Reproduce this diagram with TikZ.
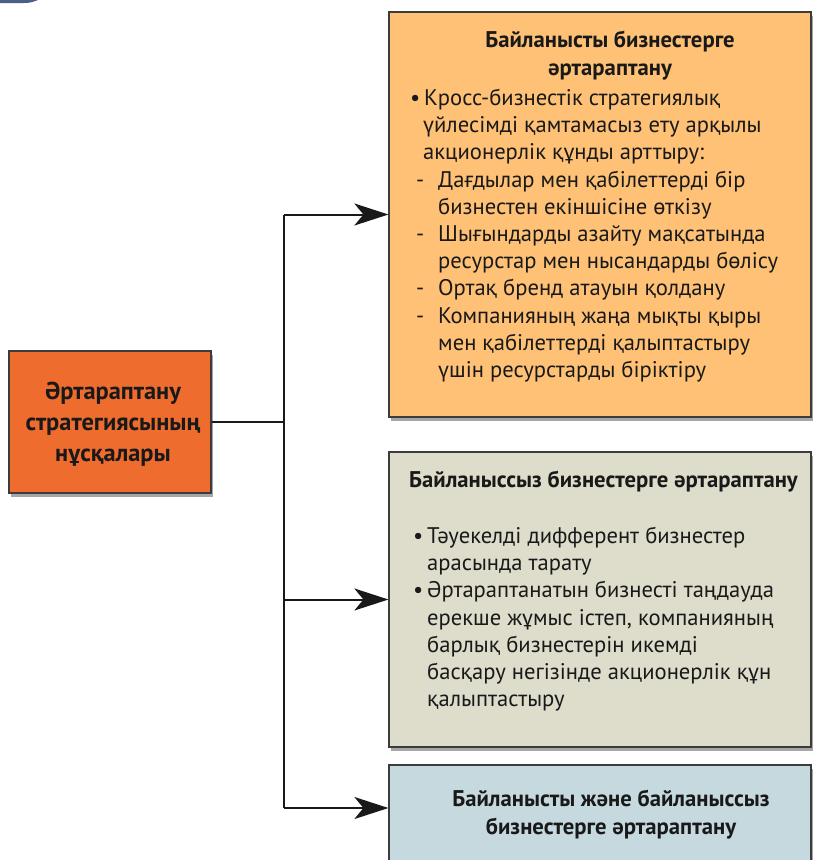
\documentclass[tikz,border=0pt]{standalone}
\usepackage{fontspec}
\setmainfont{PT Sans}
\usetikzlibrary{arrows.meta,shadows}
\definecolor{mainorange}{RGB}{239,108,47}
\definecolor{lightorange}{RGB}{254,193,117}
\definecolor{beige}{RGB}{222,220,203}
\definecolor{paleblue}{RGB}{197,217,223}
\definecolor{borderc}{RGB}{60,60,60}
\definecolor{tabblue}{RGB}{74,95,133}
\begin{document}
\begin{tikzpicture}[x=1pt,y=-1pt,
  box/.style={draw=borderc, line width=1.2pt, rectangle, inner sep=0pt,
    drop shadow={shadow xshift=2pt, shadow yshift=-4pt, opacity=0.35, fill=black}},
  body/.style={inner sep=0pt, align=left, text=black!90, font=\fontsize{22.6}{27.2}\selectfont},
  head/.style={inner sep=0pt, align=center, text=black!90, font=\fontsize{22.7}{28}\selectfont\bfseries},
  conn/.style={line width=2pt, draw=black!90},
  arr/.style={conn, -{Stealth[length=34pt,width=22pt,inset=9pt]}}
]
\clip (0,0) rectangle (813,860);
\fill[white] (0,0) rectangle (813,860);
\fill[tabblue] (0,0) -- (38,0) .. controls (33,2) and (30,3) .. (24,3) -- (0,3) -- cycle;

% boxes
\node[box, fill=mainorange, minimum width=202pt, minimum height=142pt] (src) at (110,422) {};
\node[box, fill=lightorange, minimum width=422pt, minimum height=405pt] (rel) at (600,214.5) {};
\node[box, fill=beige, minimum width=422pt, minimum height=295pt] (unrel) at (600,599.5) {};
\node[box, fill=paleblue, minimum width=422pt, minimum height=120pt] (both) at (600,825) {};

% left box text
\node[inner sep=0pt, align=center, text=black!90, font=\fontsize{24.4}{31}\selectfont\bfseries] (srcT) at (113,424)
  {Әртараптану\\стратегиясының\\нұсқалары};

% orange box text
\node[head] (relH) at (610,56) {Байланысты бизнестерге\\әртараптану};
\node[body, anchor=north west] (relT) at (409,89) {%
\hspace*{1pt}\makebox[14pt][l]{•}Кросс-бизнестік стратегиялық\\
\hspace*{14pt}үйлесімді қамтамасыз ету арқылы\\
\hspace*{14pt}акционерлік құнды арттыру:\\
\hspace*{7pt}\makebox[22pt][l]{-}Дағдылар мен қабілеттерді бір\\
\hspace*{29pt}бизнестен екіншісіне өткізу\\
\hspace*{7pt}\makebox[22pt][l]{-}Шығындарды азайту мақсатында\\
\hspace*{29pt}ресурстар мен нысандарды бөлісу\\
\hspace*{7pt}\makebox[22pt][l]{-}Ортақ бренд атауын қолдану\\
\hspace*{7pt}\makebox[22pt][l]{-}Компанияның жаңа мықты қыры\\
\hspace*{29pt}мен қабілеттерді қалыптастыру\\
\hspace*{29pt}үшін ресурстарды біріктіру};

% beige box text
\node[head, anchor=west] (unrelH) at (409,482) {Байланыссыз бизнестерге әртараптану};
\node[body, anchor=north west] (unrelT) at (409,527) {%
\hspace*{4pt}\makebox[14pt][l]{•}Тәуекелді дифферент бизнестер\\
\hspace*{18pt}арасында тарату\\
\hspace*{4pt}\makebox[14pt][l]{•}Әртараптанатын бизнесті таңдауда\\
\hspace*{18pt}ерекше жұмыс істеп, компанияның\\
\hspace*{18pt}барлық бизнестерін икемді\\
\hspace*{18pt}басқару негізінде акционерлік құн\\
\hspace*{18pt}қалыптастыру};

% blue box text
\node[head] (bothH) at (611,815) {Байланысты және байланыссыз\\бизнестерге әртараптану};

% connectors
\coordinate (trunkTop) at (284,214.5);
\coordinate (trunkMid) at (284,599.5);
\coordinate (trunkBot) at (284,808);
\draw[conn] (src.east) -- (src.east -| trunkTop);
\draw[conn] (trunkTop) -- (trunkBot);
\draw[arr] (trunkTop) -- (rel.west);
\draw[arr] (trunkMid) -- (unrel.west);
\draw[arr] (trunkBot) -- (trunkBot -| both.west);
\end{tikzpicture}
\end{document}
